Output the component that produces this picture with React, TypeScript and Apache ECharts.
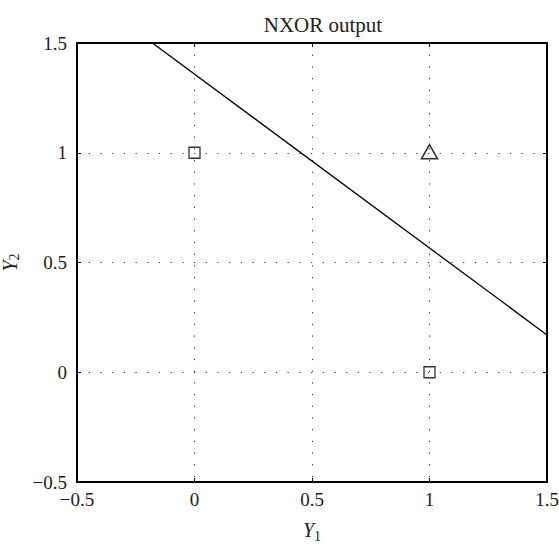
import React, { useEffect, useRef } from "react";
import * as echarts from "echarts";

const title = "NXOR output";
const squarePoints: number[][] = [[0, 1], [1, 0]];
const trianglePoints: number[][] = [[1, 1]];
const boundaryX = [-0.179, 1.5];
const boundaryY = [1.5, 0.17];
const axisMin = -0.5;
const axisMax = 1.5;
const tickStep = 0.5;

const fmt = (v: number) => String(v).replace("-", "\u2212");
const FONT = "Liberation Serif";

export default function App() {
  const ref = useRef<HTMLDivElement>(null);
  useEffect(() => {
    if (!ref.current) return;
    const chart = echarts.init(ref.current, undefined, { renderer: "svg" });
    const axisCommon = {
      type: "value" as const,
      min: axisMin,
      max: axisMax,
      interval: tickStep,
    };
    const boxLine = { show: true, onZero: false, lineStyle: { color: "#000", width: 2 } };
    const tick = { show: true, inside: true, length: 4, lineStyle: { color: "#000", width: 1 } };
    const richX = {
      i: { fontFamily: FONT, fontStyle: "italic", fontSize: 20, color: "#222", lineHeight: 20, verticalAlign: "top" },
      s: { fontFamily: FONT, fontSize: 14, color: "#222", lineHeight: 14, verticalAlign: "top", padding: [9, 0, 0, 0] },
    };
    const richY = {
      i: { fontFamily: FONT, fontStyle: "italic", fontSize: 20, color: "#222" },
      s: { fontFamily: FONT, fontSize: 14, color: "#222", verticalAlign: "bottom", padding: [10, 0, 0, 0] },
    };
    chart.setOption({
      animation: false,
      backgroundColor: "#fff",
      title: {
        text: title,
        left: 318,
        top: 9,
        textAlign: "center",
        textStyle: { fontFamily: FONT, fontSize: 21, fontWeight: "normal", color: "#222" },
      },
      grid: {
        left: 77,
        top: 43,
        width: 470,
        height: 439,
        containLabel: false,
        outerBoundsMode: "none",
      },
      xAxis: [
        {
          ...axisCommon,
          position: "bottom",
          axisLine: boxLine,
          axisTick: tick,
          splitLine: { show: true, lineStyle: { color: "#333", width: 1, type: [1.2, 10.5] } },
          axisLabel: { formatter: fmt, fontFamily: FONT, fontSize: 19, color: "#222", margin: 8 },
          name: "{i|Y}{s|1}",
          nameLocation: "middle",
          nameGap: 38,
          nameTextStyle: { rich: richX, verticalAlign: "top" },
        },
        {
          ...axisCommon,
          position: "top",
          axisLine: boxLine,
          axisTick: tick,
          splitLine: { show: false },
          axisLabel: { show: false },
        },
      ],
      yAxis: [
        {
          ...axisCommon,
          position: "left",
          axisLine: boxLine,
          axisTick: tick,
          splitLine: { show: true, lineStyle: { color: "#333", width: 1, type: [1.2, 10.5] } },
          axisLabel: { formatter: fmt, fontFamily: FONT, fontSize: 19, color: "#222", margin: 10 },
          name: "{i|Y}{s|2}",
          nameLocation: "middle",
          nameGap: 50,
          nameRotate: 90,
          nameTextStyle: { rich: richY },
        },
        {
          ...axisCommon,
          position: "right",
          axisLine: boxLine,
          axisTick: tick,
          splitLine: { show: false },
          axisLabel: { show: false },
        },
      ],
      series: [
        {
          type: "line",
          data: boundaryX.map((x, i) => [x, boundaryY[i]]),
          showSymbol: false,
          symbol: "none",
          lineStyle: { color: "#000", width: 1.3 },
          silent: true,
          z: 3,
        },
        {
          type: "scatter",
          data: squarePoints,
          symbol: "rect",
          symbolSize: 11,
          itemStyle: { color: "rgba(0,0,0,0)", borderColor: "#000", borderWidth: 1.3 },
          z: 4,
        },
        {
          type: "scatter",
          data: trianglePoints,
          symbol: "triangle",
          symbolSize: [16, 14],
          symbolOffset: [0, -1],
          itemStyle: { color: "rgba(0,0,0,0)", borderColor: "#000", borderWidth: 1.6 },
          z: 4,
        },
      ],
    });
    return () => chart.dispose();
  }, []);
  return (
    <div
      ref={ref}
      style={{ position: "fixed", left: 0, top: 0, width: 559, height: 548, background: "#fff" }}
    />
  );
}
